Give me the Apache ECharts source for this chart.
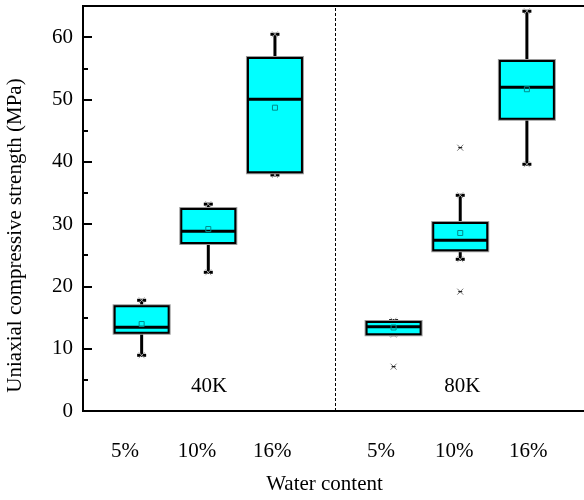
<!DOCTYPE html>
<html>
<head>
<meta charset="utf-8">
<script src="https://cdn.jsdelivr.net/npm/echarts@6/dist/echarts.min.js"></script>
<style>html,body{margin:0;padding:0;background:#fff}#c{width:584px;height:500px}</style>
</head>
<body>
<div id="c"></div>
<script>
// ---- data ----
const tickLabels = ['5%', '10%', '16%', '5%', '10%', '16%'];
const tickPos = [0.75, 1.83, 2.96, 4.59, 5.69, 6.80];
const boxPos = [1, 2, 3, 4.78, 5.78, 6.78];
const whiskerLow = [8.94, 22.26, 37.88, 12.25, 24.35, 39.6];
const q1 = [12.57, 26.97, 38.3, 12.31, 25.8, 46.92];
const median = [13.45, 28.85, 50.03, 13.53, 27.4, 51.96];
const q3 = [16.8, 32.4, 56.66, 14.29, 30.18, 56.18];
const whiskerHigh = [17.77, 33.2, 60.46, 14.5, 34.62, 64.16];
const mean = [13.96, 29.2, 48.68, 13.4, 28.57, 51.64];
const outlierX = [4.78, 5.78, 5.78];
const outlierY = [7.11, 42.26, 19.15];
const groupLabels = ['40K', '80K'];
const groupLabelX = [2.01, 5.81];
const groupLabelY = [3.9, 3.9];
const dividerX = 3.905;
const yTitle = 'Uniaxial compressive strength (MPa)';
const xTitle = 'Water content';

// ---- chart ----
const FONT = "'Liberation Serif', 'Times New Roman', serif";
const FS = 21;
const chart = echarts.init(document.getElementById('c'), null, {renderer: 'canvas'});

const boxData = boxPos.map((x, i) => [x, whiskerLow[i], q1[i], median[i], q3[i], whiskerHigh[i], mean[i]]);
const BOX_W = 0.81;   // box width in x-axis units
const CAP_W = 9;      // px

function renderBox(params, api) {
  const x = api.value(0);
  const lo = api.coord([x, api.value(1)]);
  const pq1 = api.coord([x, api.value(2)]);
  const pm = api.coord([x, api.value(3)]);
  const pq3 = api.coord([x, api.value(4)]);
  const hi = api.coord([x, api.value(5)]);
  const pmean = api.coord([x, api.value(6)]);
  const hw = api.size([BOX_W, 0])[0] / 2;
  const cx = pm[0];
  const black = {stroke: '#000', lineWidth: 3};
  const grey = {stroke: '#aaa', lineWidth: 1};
  const children = [
    {type: 'line', shape: {x1: cx, y1: hi[1], x2: cx, y2: pq3[1]}, style: black},
    {type: 'line', shape: {x1: cx, y1: pq1[1], x2: cx, y2: lo[1]}, style: black},
    {type: 'line', shape: {x1: cx - CAP_W / 2, y1: hi[1], x2: cx + CAP_W / 2, y2: hi[1]}, style: black},
    {type: 'line', shape: {x1: cx - CAP_W / 2, y1: lo[1], x2: cx + CAP_W / 2, y2: lo[1]}, style: black},
    {type: 'line', shape: {x1: cx - 3, y1: hi[1] - 3, x2: cx + 3, y2: hi[1] + 3}, style: grey},
    {type: 'line', shape: {x1: cx - 3, y1: hi[1] + 3, x2: cx + 3, y2: hi[1] - 3}, style: grey},
    {type: 'line', shape: {x1: cx - 3, y1: lo[1] - 3, x2: cx + 3, y2: lo[1] + 3}, style: grey},
    {type: 'line', shape: {x1: cx - 3, y1: lo[1] + 3, x2: cx + 3, y2: lo[1] - 3}, style: grey},
    {type: 'rect', shape: {x: cx - hw, y: pq3[1], width: hw * 2, height: pq1[1] - pq3[1]},
      style: {fill: '#00FFFF', stroke: '#9a9a9a', lineWidth: 4}},
    {type: 'rect', shape: {x: cx - hw, y: pq3[1], width: hw * 2, height: pq1[1] - pq3[1]},
      style: {fill: '#00FFFF', stroke: '#000', lineWidth: 2}},
    {type: 'line', shape: {x1: cx - hw, y1: pm[1], x2: cx + hw, y2: pm[1]}, style: black},
    {type: 'rect', shape: {x: pmean[0] - 2.5, y: pmean[1] - 2.5, width: 5, height: 5},
      style: {fill: 'none', stroke: '#008b8b', lineWidth: 1}}
  ];
  return {type: 'group', children};
}

function renderCross(params, api) {
  const p = api.coord([api.value(0), api.value(1)]);
  const s = 3;
  return {type: 'group', children: [
    {type: 'line', shape: {x1: p[0] - s, y1: p[1] - s, x2: p[0] + s, y2: p[1] + s}, style: {stroke: '#777', lineWidth: 1}},
    {type: 'line', shape: {x1: p[0] - s, y1: p[1] + s, x2: p[0] + s, y2: p[1] - s}, style: {stroke: '#777', lineWidth: 1}},
    {type: 'line', shape: {x1: p[0] - 2, y1: p[1], x2: p[0] + 2, y2: p[1]}, style: {stroke: '#000', lineWidth: 1}}
  ]};
}

function renderText(params, api) {
  const p = api.coord([api.value(0), api.value(1)]);
  return {
    type: 'text', x: p[0], y: p[1],
    style: {text: groupLabels[params.dataIndex], fill: '#000', font: FS + 'px ' + FONT,
      align: 'center', verticalAlign: 'middle'}
  };
}

const option = {
  animation: false,
  backgroundColor: '#fff',
  grid: {left: 83, top: 6, width: 521, height: 405, show: true, borderColor: '#000', borderWidth: 2,
    containLabel: false, outerBoundsMode: 'none'},
  xAxis: {
    type: 'value', min: 0.12, max: 7.937,
    splitLine: {show: false},
    axisLine: {show: true, onZero: false, lineStyle: {color: '#000', width: 2}},
    axisTick: {show: false},
    axisLabel: {
      show: true, customValues: tickPos, margin: 30,
      color: '#000', fontFamily: FONT, fontSize: FS,
      formatter: v => { const i = tickPos.findIndex(t => Math.abs(t - v) < 1e-6); return i >= 0 ? tickLabels[i] : ''; }
    },
    name: xTitle, nameLocation: 'middle', nameGap: 63,
    nameTextStyle: {color: '#000', fontFamily: FONT, fontSize: FS, padding: [0, 38, 0, 0]}
  },
  yAxis: {
    type: 'value', min: 0, max: 65, interval: 10,
    splitLine: {show: false},
    axisLine: {show: true, lineStyle: {color: '#000', width: 2}},
    axisTick: {show: true, inside: true, length: 9, lineStyle: {color: '#000', width: 2}},
    minorTick: {show: true, splitNumber: 2, length: 5, lineStyle: {color: '#000', width: 2}},
    axisLabel: {color: '#000', fontFamily: FONT, fontSize: FS, margin: 10, showMaxLabel: false,
      formatter: v => (v % 10 === 0 ? String(v) : '')},
    name: yTitle, nameLocation: 'middle', nameGap: 57,
    nameTextStyle: {color: '#000', fontFamily: FONT, fontSize: FS, padding: [0, 54, 0, 0]}
  },
  series: [
    {
      type: 'custom', renderItem: renderBox, data: boxData, clip: false,
      encode: {x: 0, y: [1, 2, 3, 4, 5, 6]}, z: 3
    },
    {
      type: 'custom', renderItem: renderCross, data: outlierX.map((x, i) => [x, outlierY[i]]), z: 3
    },
    {
      type: 'custom', renderItem: renderText, data: groupLabelX.map((x, i) => [x, groupLabelY[i]]), z: 2,
      markLine: {
        silent: true, symbol: ['none', 'none'], label: {show: false},
        lineStyle: {color: '#000', width: 1, type: [3, 2]},
        data: [{xAxis: dividerX}]
      }
    }
  ]
};
chart.setOption(option);
</script>
</body>
</html>
